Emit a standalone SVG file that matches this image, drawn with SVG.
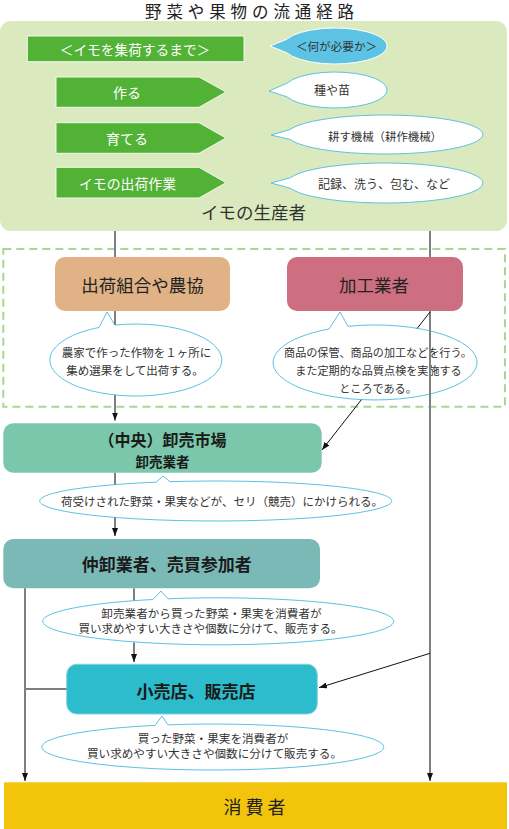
<svg xmlns="http://www.w3.org/2000/svg" width="509" height="829" viewBox="0 0 509 829">
<style>
text{font-family:"Noto Sans CJK JP","Noto Sans",sans-serif;dominant-baseline:central;text-anchor:middle;fill:#333}
.w{fill:#fff}
.b{font-weight:bold;fill:#1a1a1a}
.bar{fill:#52b236;stroke:#f2f8ec;stroke-width:1}
.cw{fill:#fff;stroke:#5cc2e2;stroke-width:1}
.gl{stroke:#7f7f7f;stroke-width:2;fill:none}
.kl{stroke:#111;stroke-width:1;fill:none}
</style>
<defs>
<marker id="ah" markerUnits="userSpaceOnUse" markerWidth="8" markerHeight="6" refX="8" refY="3" orient="auto"><path d="M0,0 L8,3 L0,6 Z" fill="#111"/></marker>
</defs>
<text x="145" y="11" font-size="16.5" letter-spacing="4.9" style="text-anchor:start;fill:#222">野菜や果物の流通経路</text>

<g id="producer">
<rect x="0" y="21" width="507" height="210" rx="11" fill="#dbe9bf"/>
<text x="253.5" y="211" font-size="17.5">イモの生産者</text>
</g>
<g id="header">
<rect class="bar" x="27.3" y="36" width="216.7" height="25.7"/>
<text class="w" x="135" y="48.5" font-size="13.7">＜イモを集荷するまで＞</text>
</g>
<g id="need">
<path d="M286.8 52.75 L270 46 L286.8 39.25 A52 18 0 1 1 286.8 52.75 Z" fill="#5cc3e4" stroke="#fff" stroke-width="1"/>
<text x="336.5" y="46" font-size="11.6">＜何が必要か＞</text>
</g>
<g id="step1">
<polygon class="bar" points="56,77 199,77 226,92 199,107.3 56,107.3"/>
<text class="w" x="127" y="92" font-size="14">作る</text>
</g>
<g id="step2">
<polygon class="bar" points="56,122.7 199,122.7 226,138 199,153.3 56,153.3"/>
<text class="w" x="127" y="138" font-size="14">育てる</text>
</g>
<g id="step3">
<polygon class="bar" points="56,167.3 199,167.3 226,182.7 199,198 56,198"/>
<text class="w" x="127.5" y="182.7" font-size="13.9">イモの出荷作業</text>
</g>
<g id="need1">
<path class="cw" d="M286.8 96.75 L269 91 L286.8 83.25 A52 18 0 1 1 286.8 96.75 Z"/>
<text x="332" y="89.5" font-size="12">種や苗</text>
</g>
<g id="need2">
<path class="cw" d="M290.3 139.55 L271 135 L290.3 129.45 A98 19.5 0 1 1 290.3 139.55 Z"/>
<text x="385" y="135.5" font-size="11.4">耕す機械（耕作機械）</text>
</g>
<g id="need3">
<path class="cw" d="M290.3 188.2 L271 183 L290.3 177.8 A98 20 0 1 1 290.3 188.2 Z"/>
<text x="384" y="183" font-size="12">記録、洗う、包む、など</text>
</g>

<rect id="middle-area" x="3.3" y="249" width="501.7" height="157.7" fill="none" stroke="#a6d98e" stroke-width="2" stroke-dasharray="8 5"/>

<g id="kumiai">
<rect x="55" y="257" width="175" height="54" rx="10" fill="#e1b285"/>
<text x="142.5" y="284" font-size="17.5" style="fill:#222">出荷組合や農協</text>
</g>
<g id="kumiai-note">
<path class="cw" d="M99 327.5 L107 312 L115 325.1 A86 36 0 1 1 99 327.5 Z"/>
<text x="136.5" y="351.7" font-size="11.5">農家で作った作物を１ヶ所に</text>
<text x="135" y="370" font-size="11.5">集め選果をして出荷する。</text>
</g>
<g id="kakou">
<rect x="287" y="257" width="176" height="54" rx="10" fill="#cd6f80"/>
<text x="374" y="284" font-size="17.5" style="fill:#222">加工業者</text>
</g>
<g id="kakou-note">
<path class="cw" d="M329 329 L340 312 L348 326.3 A102 37.5 0 1 1 329 329 Z"/>
<text x="378" y="351.7" font-size="11.1">商品の保管、商品の加工などを行う。</text>
<text x="378.5" y="370" font-size="11.1">また定期的な品質点検を実施する</text>
<text x="378" y="388.3" font-size="11.1">ところである。</text>
</g>

<g id="oroshi">
<rect x="3.3" y="423.3" width="318.4" height="49.4" rx="10" fill="#7bc7ab"/>
<text class="b" x="162.5" y="439.3" font-size="16">（中央）卸売市場</text>
<text class="b" x="162.5" y="460.7" font-size="13.5">卸売業者</text>
</g>
<g id="oroshi-note">
<path class="cw" d="M156 482.2 L163 476 L170 481.7 A176 20 0 1 1 156 482.2 Z"/>
<text x="222" y="501" font-size="11.5">荷受けされた野菜・果実などが、セリ（競売）にかけられる。</text>
</g>

<g id="nakaoroshi">
<rect x="3.3" y="539" width="316.7" height="49.3" rx="10" fill="#7bb9b7"/>
<text class="b" x="166.7" y="563.5" font-size="17">仲卸業者、売買参加者</text>
</g>
<g id="nakaoroshi-note">
<path class="cw" d="M153 599.5 L161 591 L168 598.8 A175.5 23.5 0 1 1 153 599.5 Z"/>
<text x="211.5" y="613" font-size="11.6">卸売業者から買った野菜・果実を消費者が</text>
<text x="210.5" y="628" font-size="11.5">買い求めやすい大きさや個数に分けて、販売する。</text>
</g>

<g id="kouri">
<rect x="66.7" y="664.3" width="250.6" height="49.7" rx="10" fill="#2dbccc" stroke="#7fd3de" stroke-width="1"/>
<text class="b" x="196" y="690" font-size="17">小売店、販売店</text>
</g>
<g id="kouri-note">
<path class="cw" d="M155 725.4 L162 716 L168 724.85 A171 23 0 1 1 155 725.4 Z"/>
<text x="213" y="738" font-size="11.6">買った野菜・果実を消費者が</text>
<text x="214.5" y="752.5" font-size="11.6">買い求めやすい大きさや個数に分けて販売する。</text>
</g>

<g id="consumer">
<rect x="4" y="782.3" width="503" height="46.7" fill="#f2c40b"/>
<text x="223.5" y="806" font-size="18" letter-spacing="4" style="text-anchor:start;fill:#222">消費者</text>
</g>

<g id="connectors">
<line class="gl" x1="115" y1="231" x2="115" y2="257"/>
<line class="gl" x1="115" y1="311" x2="115" y2="325"/>
<line class="gl" x1="115" y1="394.9" x2="115" y2="420.5" marker-end="url(#ah)"/>
<line class="gl" x1="115" y1="472.7" x2="115" y2="484.7"/>
<line class="gl" x1="115" y1="517.3" x2="115" y2="536" marker-end="url(#ah)"/>
<line class="gl" x1="134" y1="588.3" x2="134" y2="600.6"/>
<line class="gl" x1="134" y1="642.4" x2="134" y2="662" marker-end="url(#ah)"/>
<line class="gl" x1="25" y1="588.3" x2="25" y2="781" marker-end="url(#ah)"/>
<line class="gl" x1="25" y1="689" x2="66.7" y2="689"/>
<line class="gl" x1="430" y1="231" x2="430" y2="257"/>
<line class="gl" x1="430" y1="311" x2="430" y2="781" marker-end="url(#ah)"/>
<line class="kl" x1="430" y1="312" x2="417.2" y2="328.4"/>
<line class="kl" x1="361.4" y1="399.7" x2="322" y2="450" marker-end="url(#ah)"/>
<line class="kl" x1="430" y1="653.3" x2="319" y2="687.7" marker-end="url(#ah)"/>
</g>
</svg>
